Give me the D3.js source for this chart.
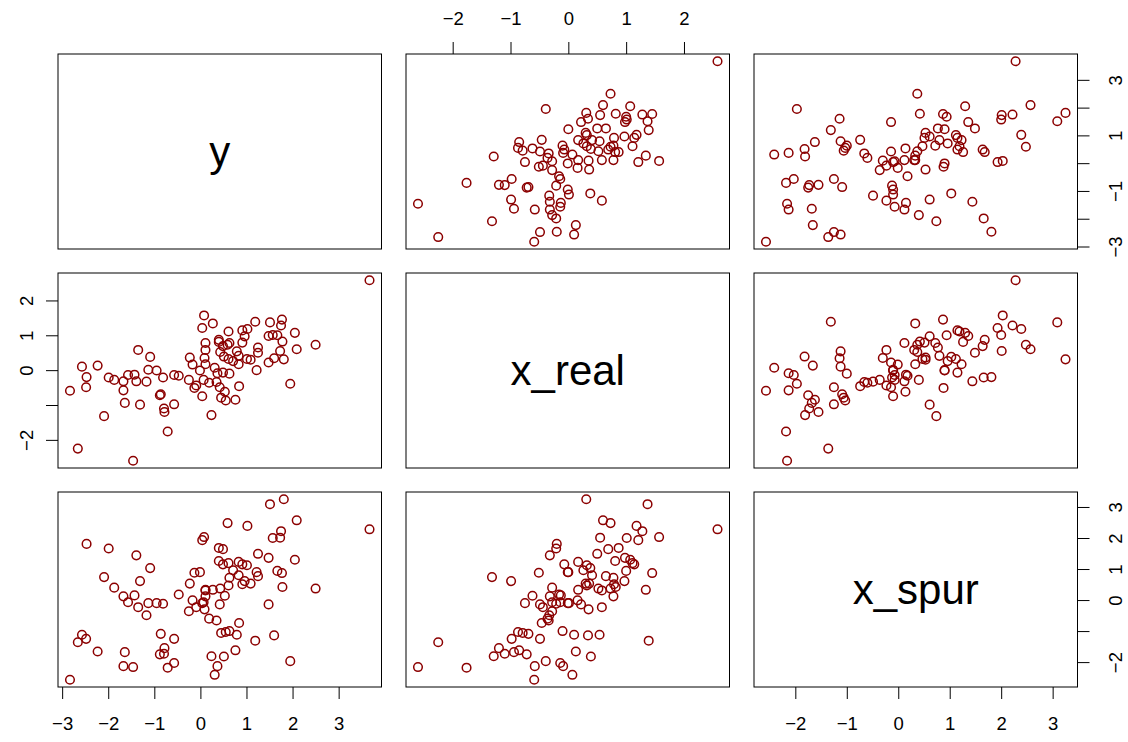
<!DOCTYPE html>
<html>
<head>
<meta charset="utf-8">
<script src="https://cdn.jsdelivr.net/npm/d3@7"></script>
<style>
  body { margin: 0; background: #fff; }
</style>
</head>
<body>
<svg id="main-chart"></svg>
<script>
const varNames = ["y", "x_real", "x_spur"];

const y = [-1.46,-2.66,-0.71,-2.09,0.24,-0.78,-0.79,-1.31,-0.57,-1.64,
  0.55,0.76,0.45,0.04,-0.88,-0.86,0.53,-2.83,-1.67,-0.13,
  0.42,-2.48,0.84,-0.09,1.95,0.19,0.35,-1.17,-1.39,-1.67,
  0.07,-0.25,-1.87,-0.81,-1.99,-2.47,-0.47,-0.57,-1.57,-1.43,
  0.63,0.37,0.49,-0.01,-0.95,1.22,-1.13,0.31,-2.57,-2.23,
  -0.17,0.83,0.11,1.48,0.71,1.09,1.81,1.01,0.61,1.60,
  0.09,-0.23,-1.09,0.51,0.83,1.25,0.43,0.79,1.73,0.11,
  -1.35,2.09,1.25,0.49,2.50,0.59,0.63,0.11,0.91,0.40,
  1.78,0.40,0.96,1.48,1.67,1.57,2.05,0.61,0.91,1.02,
  0.04,1.75,0.27,1.51,1.19,1.77,0.08,3.67];

const x_real = [-2.60,-2.25,-1.76,-1.32,-1.29,-1.20,-1.10,-0.99,-0.98,-0.94,
  -0.87,-0.85,-0.79,-0.75,-0.72,-0.69,-0.62,-0.59,-0.58,-0.51,
  -0.49,-0.49,-0.46,-0.44,-0.39,-0.36,-0.34,-0.33,-0.32,-0.32,
  -0.28,-0.28,-0.28,-0.21,-0.21,-0.20,-0.16,-0.14,-0.14,-0.13,
  -0.10,-0.09,-0.07,-0.01,-0.01,0.00,0.01,0.07,0.10,0.13,
  0.16,0.17,0.17,0.22,0.26,0.30,0.31,0.32,0.32,0.34,
  0.35,0.36,0.38,0.39,0.41,0.50,0.52,0.54,0.55,0.58,
  0.58,0.60,0.65,0.69,0.73,0.73,0.78,0.78,0.79,0.81,
  0.82,0.87,0.97,0.98,1.00,1.01,1.07,1.11,1.14,1.18,
  1.21,1.28,1.34,1.37,1.39,1.45,1.57,2.58];

const x_spur = [-2.16,-1.36,-2.18,0.74,-1.81,-1.55,-1.73,0.61,-1.25,-1.68,
  -1.03,-1.62,-1.06,-0.10,-1.75,-1.09,0.14,-2.57,-2.13,0.88,
  -0.14,-1.25,-0.74,-0.23,-1.97,-0.60,-0.66,-0.49,1.44,0.12,
  -0.07,-0.36,0.40,-0.12,1.66,1.81,0.18,-2.03,-0.07,0.15,
  -1.00,-2.13,1.15,0.90,-0.10,0.90,-0.10,-2.41,-1.12,-1.66,
  -0.01,1.23,0.33,-0.14,0.96,0.53,3.25,1.12,0.47,-1.14,
  -0.30,0.53,1.03,-1.82,0.80,1.49,0.37,-1.12,2.01,0.31,
  -0.23,2.57,0.77,1.64,0.37,2.48,0.72,0.12,0.51,1.26,
  0.42,1.68,0.61,1.36,0.94,2.00,1.30,1.19,1.15,2.39,
  1.93,2.22,0.33,3.09,-1.31,0.87,2.03,2.28];

// tick marks, and which of them get a label on the vertical axes
const yTicks = [-3, -2, -1, 0, 1, 2, 3];
const yVertLabels = [-3, -1, 1, 3];
const x_realTicks = [-2, -1, 0, 1, 2];
const x_realVertLabels = [-2, 0, 1, 2];
const x_spurTicks = [-2, -1, 0, 1, 2, 3];
const x_spurVertLabels = [-2, 0, 1, 2, 3];

function plotchart()
{
  const width = 1128;
  const height = 742;
  const cols = [58, 406, 754];
  const rows = [54, 273, 492];
  const pw = 323.5;
  const ph = 195;
  const pointColor = "#8b0000";
  const font = "'Liberation Sans', Arial, Helvetica, sans-serif";

  const svg = d3.select("#main-chart")
      .attr("width", width)
      .attr("height", height);

  const vars = [
    {name: "y", values: y, ticks: yTicks, vert: yVertLabels},
    {name: "x_real", values: x_real, ticks: x_realTicks, vert: x_realVertLabels},
    {name: "x_spur", values: x_spur, ticks: x_spurTicks, vert: x_spurVertLabels}
  ];

  // R style 4% padding on the data range
  const padded = v => {
    const [a, b] = d3.extent(v);
    const e = (b - a) * 0.04;
    return [a - e, b + e];
  };

  vars.forEach((v, i) => {
    v.xs = d3.scaleLinear().domain(padded(v.values)).range([cols[i], cols[i] + pw]);
    v.ys = d3.scaleLinear().domain(padded(v.values)).range([rows[i] + ph, rows[i]]);
  });

  const data = y.map((d, i) => ({y: d, x_real: x_real[i], x_spur: x_spur[i]}));

  for (let i = 0; i < 3; i++) {
    for (let j = 0; j < 3; j++) {
      const g = svg.append("g");
      if (i === j) {
        g.append("text")
            .attr("x", cols[j] + pw / 2)
            .attr("y", rows[i] + ph / 2)
            .attr("text-anchor", "middle")
            .attr("dominant-baseline", "central")
            .attr("font-family", font)
            .attr("font-size", 42)
            .text(varNames[i]);
      } else {
        const vx = vars[j], vy = vars[i];
        g.selectAll("circle")
          .data(data)
          .join("circle")
            .attr("cx", d => vx.xs(d[vx.name]))
            .attr("cy", d => vy.ys(d[vy.name]))
            .attr("r", 4.3)
            .attr("fill", "none")
            .attr("stroke", pointColor)
            .attr("stroke-width", 1.5);
      }
      g.append("rect")
          .attr("x", cols[j])
          .attr("y", rows[i])
          .attr("width", pw)
          .attr("height", ph)
          .attr("fill", "none")
          .attr("stroke", "black")
          .attr("stroke-width", 1);
    }
  }

  const fmt = d3.format("d");

  const styleAxis = g => {
    g.select(".domain").remove();
    g.selectAll(".tick line").attr("stroke", "black");
    g.selectAll("text")
        .attr("font-family", font)
        .attr("font-size", 18.5)
        .attr("fill", "black");
  };

  // horizontal axes: top on column 2, bottom on columns 1 and 3
  svg.append("g")
      .attr("transform", `translate(0,${rows[0]})`)
      .call(d3.axisTop(vars[1].xs).tickValues(vars[1].ticks).tickFormat(fmt)
        .tickSize(12).tickPadding(17))
      .call(styleAxis);

  [0, 2].forEach(j => {
    svg.append("g")
        .attr("transform", `translate(0,${rows[2] + ph})`)
        .call(d3.axisBottom(vars[j].xs).tickValues(vars[j].ticks).tickFormat(fmt)
          .tickSize(12).tickPadding(18))
        .call(styleAxis);
  });

  // vertical axes: left on row 2, right on rows 1 and 3, labels turned
  const vertFormat = v => d => v.vert.includes(d) ? fmt(d) : "";

  svg.append("g")
      .attr("transform", `translate(${cols[0]},0)`)
      .call(d3.axisLeft(vars[1].ys).tickValues(vars[1].ticks).tickFormat(vertFormat(vars[1]))
        .tickSize(12))
      .call(styleAxis)
      .call(g => g.selectAll("text")
          .attr("transform", "rotate(-90)")
          .attr("x", 0).attr("y", -25).attr("dy", 0)
          .attr("text-anchor", "middle"));

  [0, 2].forEach(i => {
    svg.append("g")
        .attr("transform", `translate(${cols[2] + pw},0)`)
        .call(d3.axisRight(vars[i].ys).tickValues(vars[i].ticks).tickFormat(vertFormat(vars[i]))
          .tickSize(12))
        .call(styleAxis)
        .call(g => g.selectAll("text")
            .attr("transform", "rotate(-90)")
            .attr("x", 0).attr("y", 44).attr("dy", 0)
            .attr("text-anchor", "middle"));
  });
}

plotchart();
</script>
</body>
</html>
